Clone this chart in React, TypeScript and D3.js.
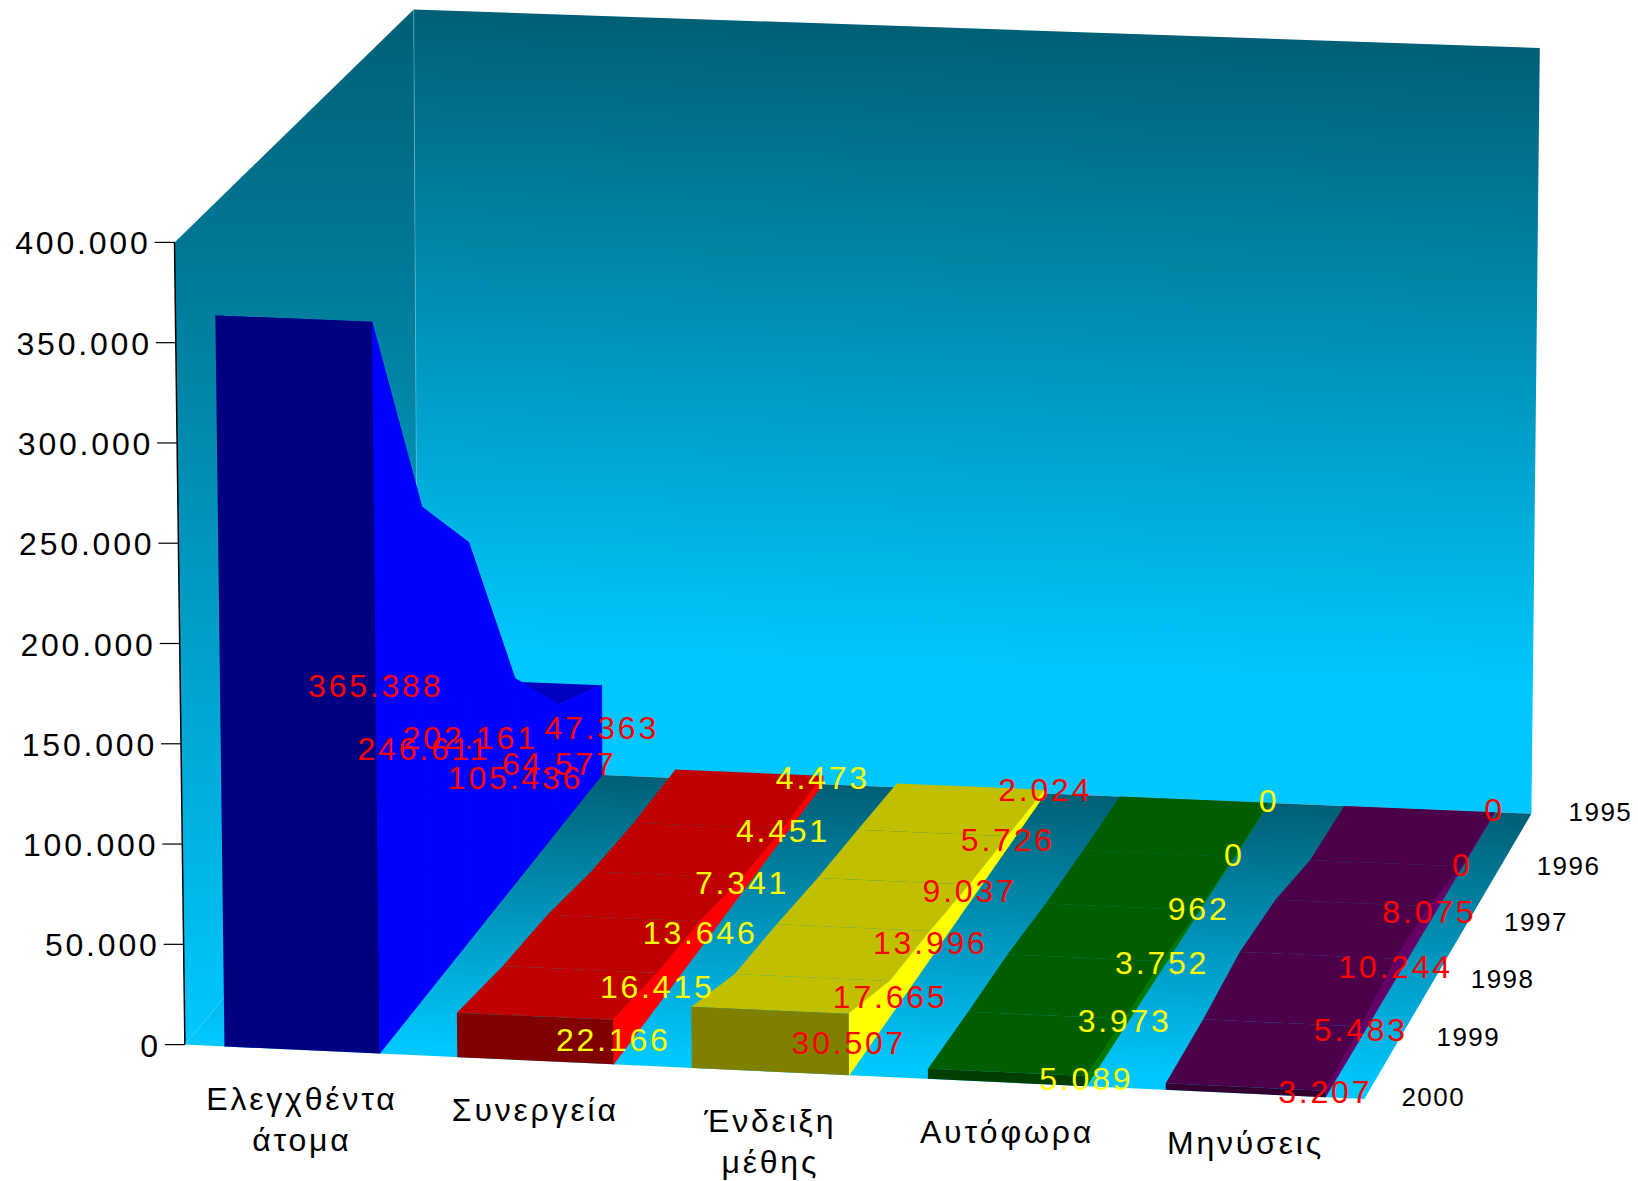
import React from "react";
import * as d3 from "d3";

const W = 1638;
const H = 1181;

const years = ["1995", "1996", "1997", "1998", "1999", "2000"];
const categories = [["Ελεγχθέντα", "άτομα"], ["Συνεργεία"], ["Ένδειξη", "μέθης"], ["Αυτόφωρα"], ["Μηνύσεις"]];
const checked = [47363, 64577, 105436, 202161, 246611, 365388];
const crews = [4473, 4451, 7341, 13646, 16415, 22166];
const drunk = [2024, 5726, 9037, 13996, 17665, 30507];
const caught = [0, 0, 962, 3752, 3973, 5089];
const fines = [0, 0, 8075, 10244, 5483, 3207];
const seriesValues = [checked, crews, drunk, caught, fines];
const topColors = ["#0000c0", "#c00000", "#c0c000", "#005e00", "#4d004a"];
const sideColors = ["#0000ff", "#ff0000", "#ffff00", "#007800", "#660066"];
const frontColors = ["#000080", "#800000", "#808000", "#003f00", "#33002f"];
const labelColors = ["#ff0000", "#ffff00", "#ff0000", "#ffff00", "#ff0000"];
const valueTicks = [0, 50000, 100000, 150000, 200000, 250000, 300000, 350000, 400000];

type P = [number, number];

// Corners of the chart box on the page: front-left, front-right, back-right, back-left.
const floorQuad: P[] = [[184.9, 1044.6], [1364.3, 1099], [1531.4, 813.8], [418, 767.3]];
const ceilQuad: P[] = [[174.5, 242.4], [1367.5, 288], [1539.8, 48], [413.7, 9.4]];

// Perspective map from the unit square onto a quadrilateral.
function squareToQuad(q: P[]) {
  const [[x0, y0], [x1, y1], [x2, y2], [x3, y3]] = q;
  const dx1 = x1 - x2, dx2 = x3 - x2, sx = x0 - x1 + x2 - x3;
  const dy1 = y1 - y2, dy2 = y3 - y2, sy = y0 - y1 + y2 - y3;
  const den = dx1 * dy2 - dx2 * dy1;
  const g = (sx * dy2 - dx2 * sy) / den;
  const h = (dx1 * sy - sx * dy1) / den;
  const a = x1 - x0 + g * x1, b = x3 - x0 + h * x3, c = x0;
  const d = y1 - y0 + g * y1, e = y3 - y0 + h * y3, f = y0;
  return (u: number, v: number): P => {
    const w = g * u + h * v + 1;
    return [(a * u + b * v + c) / w, (d * u + e * v + f) / w];
  };
}

const floorAt = squareToQuad(floorQuad);
const ceilAt = squareToQuad(ceilQuad);

const axisScale = d3.scaleLinear().domain([0, 400000]).range([0, 1]);
const barScale = d3.scaleLinear().domain([0, 400000]).range([0, 0.997]);
const depthScale = d3.scalePoint<string>().domain(years).range([1, 0]);
const catScale = d3
  .scaleBand<number>()
  .domain(d3.range(categories.length))
  .range([0.0008, 1.0008])
  .paddingInner(1 / 3)
  .paddingOuter(1 / 6);

function project(u: number, value: number, v: number, scale = barScale): P {
  const a = floorAt(u, v);
  const b = ceilAt(u, v);
  const t = scale(value);
  return [a[0] + (b[0] - a[0]) * t, a[1] + (b[1] - a[1]) * t];
}

const poly = d3.line<P>().curve(d3.curveLinearClosed);
const grouped = (n: number) => d3.format(",")(n).replace(/,/g, ".");

const TEXT = "'Liberation Sans', Arial, sans-serif";
const FONT_SIZE = 32;
const TRACKING = 2.8;

export default function App() {
  const fl = floorQuad;
  const backMid = floorAt(0.5, 1);
  const frontMid = floorAt(0.5, 0);
  return (
    <svg
      width={W}
      height={H}
      viewBox={`0 0 ${W} ${H}`}
      style={{ position: "absolute", left: 0, top: 0, display: "block", background: "#fff" }}
      fontFamily={TEXT}
    >
      <defs>
        <linearGradient id="backWall" gradientUnits="userSpaceOnUse" x1={977} y1={28} x2={955} y2={672}>
          <stop offset="0" stopColor="#005f75" />
          <stop offset="1" stopColor="#00c8ff" />
        </linearGradient>
        <linearGradient id="sideWall" gradientUnits="userSpaceOnUse" x1={0} y1={9} x2={0} y2={1045}>
          <stop offset="0" stopColor="#005f75" />
          <stop offset="1" stopColor="#00c8ff" />
        </linearGradient>
        <linearGradient
          id="floor"
          gradientUnits="userSpaceOnUse"
          x1={backMid[0]}
          y1={backMid[1]}
          x2={backMid[0] - (frontMid[1] - backMid[1]) * 0.044}
          y2={frontMid[1]}
        >
          <stop offset="0" stopColor="#005f75" />
          <stop offset="1" stopColor="#00c8ff" />
        </linearGradient>
      </defs>

      <path d={poly([ceilQuad[3], ceilQuad[2], fl[2], fl[3]])!} fill="url(#backWall)" />
      <path d={poly([ceilQuad[0], ceilQuad[3], fl[3], fl[0]])!} fill="url(#sideWall)" />
      <path d={poly(fl)!} fill="url(#floor)" />
      <line x1={ceilQuad[3][0]} y1={ceilQuad[3][1]} x2={fl[3][0]} y2={fl[3][1]} stroke="#7cc4d6" strokeOpacity={0.5} />
      <line x1={ceilQuad[0][0]} y1={ceilQuad[0][1]} x2={fl[0][0]} y2={fl[0][1]} stroke="#000" strokeWidth={1.5} />

      {valueTicks.map((t) => {
        const [x, y] = project(0, t, 0, axisScale);
        return (
          <g key={t}>
            <line x1={x - 20} y1={y} x2={x} y2={y} stroke="#000" strokeWidth={1.2} />
            <text x={x - 24} y={y + 1} textAnchor="end" dominantBaseline="central" fontSize={FONT_SIZE} letterSpacing={TRACKING} fill="#000">
              {grouped(t)}
            </text>
          </g>
        );
      })}

      {seriesValues.map((vals, c) => {
        const u0 = catScale(c)!;
        const u1 = u0 + catScale.bandwidth();
        const segments = d3.range(vals.length - 1);
        const frontIdx = vals.length - 1;
        return (
          <g key={c}>
            {segments.map((i) => {
              const vBack = depthScale(years[i])!;
              const vFront = depthScale(years[i + 1])!;
              const top = [
                project(u0, vals[i], vBack),
                project(u1, vals[i], vBack),
                project(u1, vals[i + 1], vFront),
                project(u0, vals[i + 1], vFront),
              ];
              const side = [
                project(u1, vals[i], vBack),
                project(u1, 0, vBack),
                project(u1, 0, vFront),
                project(u1, vals[i + 1], vFront),
              ];
              return (
                <g key={i}>
                  <path d={poly(top)!} fill={topColors[c]} />
                  <path d={poly(side)!} fill={sideColors[c]} stroke={sideColors[c]} strokeWidth={0.9} />
                </g>
              );
            })}
            <path
              d={
                poly([
                  project(u0, vals[frontIdx], 0),
                  project(u1, vals[frontIdx], 0),
                  project(u1, 0, 0),
                  project(u0, 0, 0),
                ])!
              }
              fill={frontColors[c]}
            />
          </g>
        );
      })}

      {seriesValues.map((vals, c) =>
        vals.map((val, i) => {
          const u1 = catScale(c)! + catScale.bandwidth();
          const [x, y] = project(u1, val / 2, depthScale(years[i])!);
          return (
            <text
              key={`${c}-${i}`}
              x={x}
              y={y - 2}
              textAnchor="middle"
              dominantBaseline="central"
              fontSize={FONT_SIZE}
              letterSpacing={TRACKING}
              fill={labelColors[c]}
            >
              {grouped(val)}
            </text>
          );
        })
      )}

      {categories.map((lines, c) => {
        const [x, y] = project(catScale(c)! + catScale.bandwidth() / 2, 0, 0);
        return lines.map((s, k) => (
          <text
            key={s}
            x={x}
            y={y + 49 + k * 41}
            textAnchor="middle"
            dominantBaseline="central"
            fontSize={FONT_SIZE}
            letterSpacing={TRACKING}
            fill="#000"
          >
            {s}
          </text>
        ));
      })}

      {years.map((yr) => {
        const [x, y] = project(1, 0, depthScale(yr)!);
        return (
          <text key={yr} x={x + 69} y={y - 2} textAnchor="middle" dominantBaseline="central" fontSize={26} letterSpacing={1.5} fill="#000">
            {yr}
          </text>
        );
      })}
    </svg>
  );
}
